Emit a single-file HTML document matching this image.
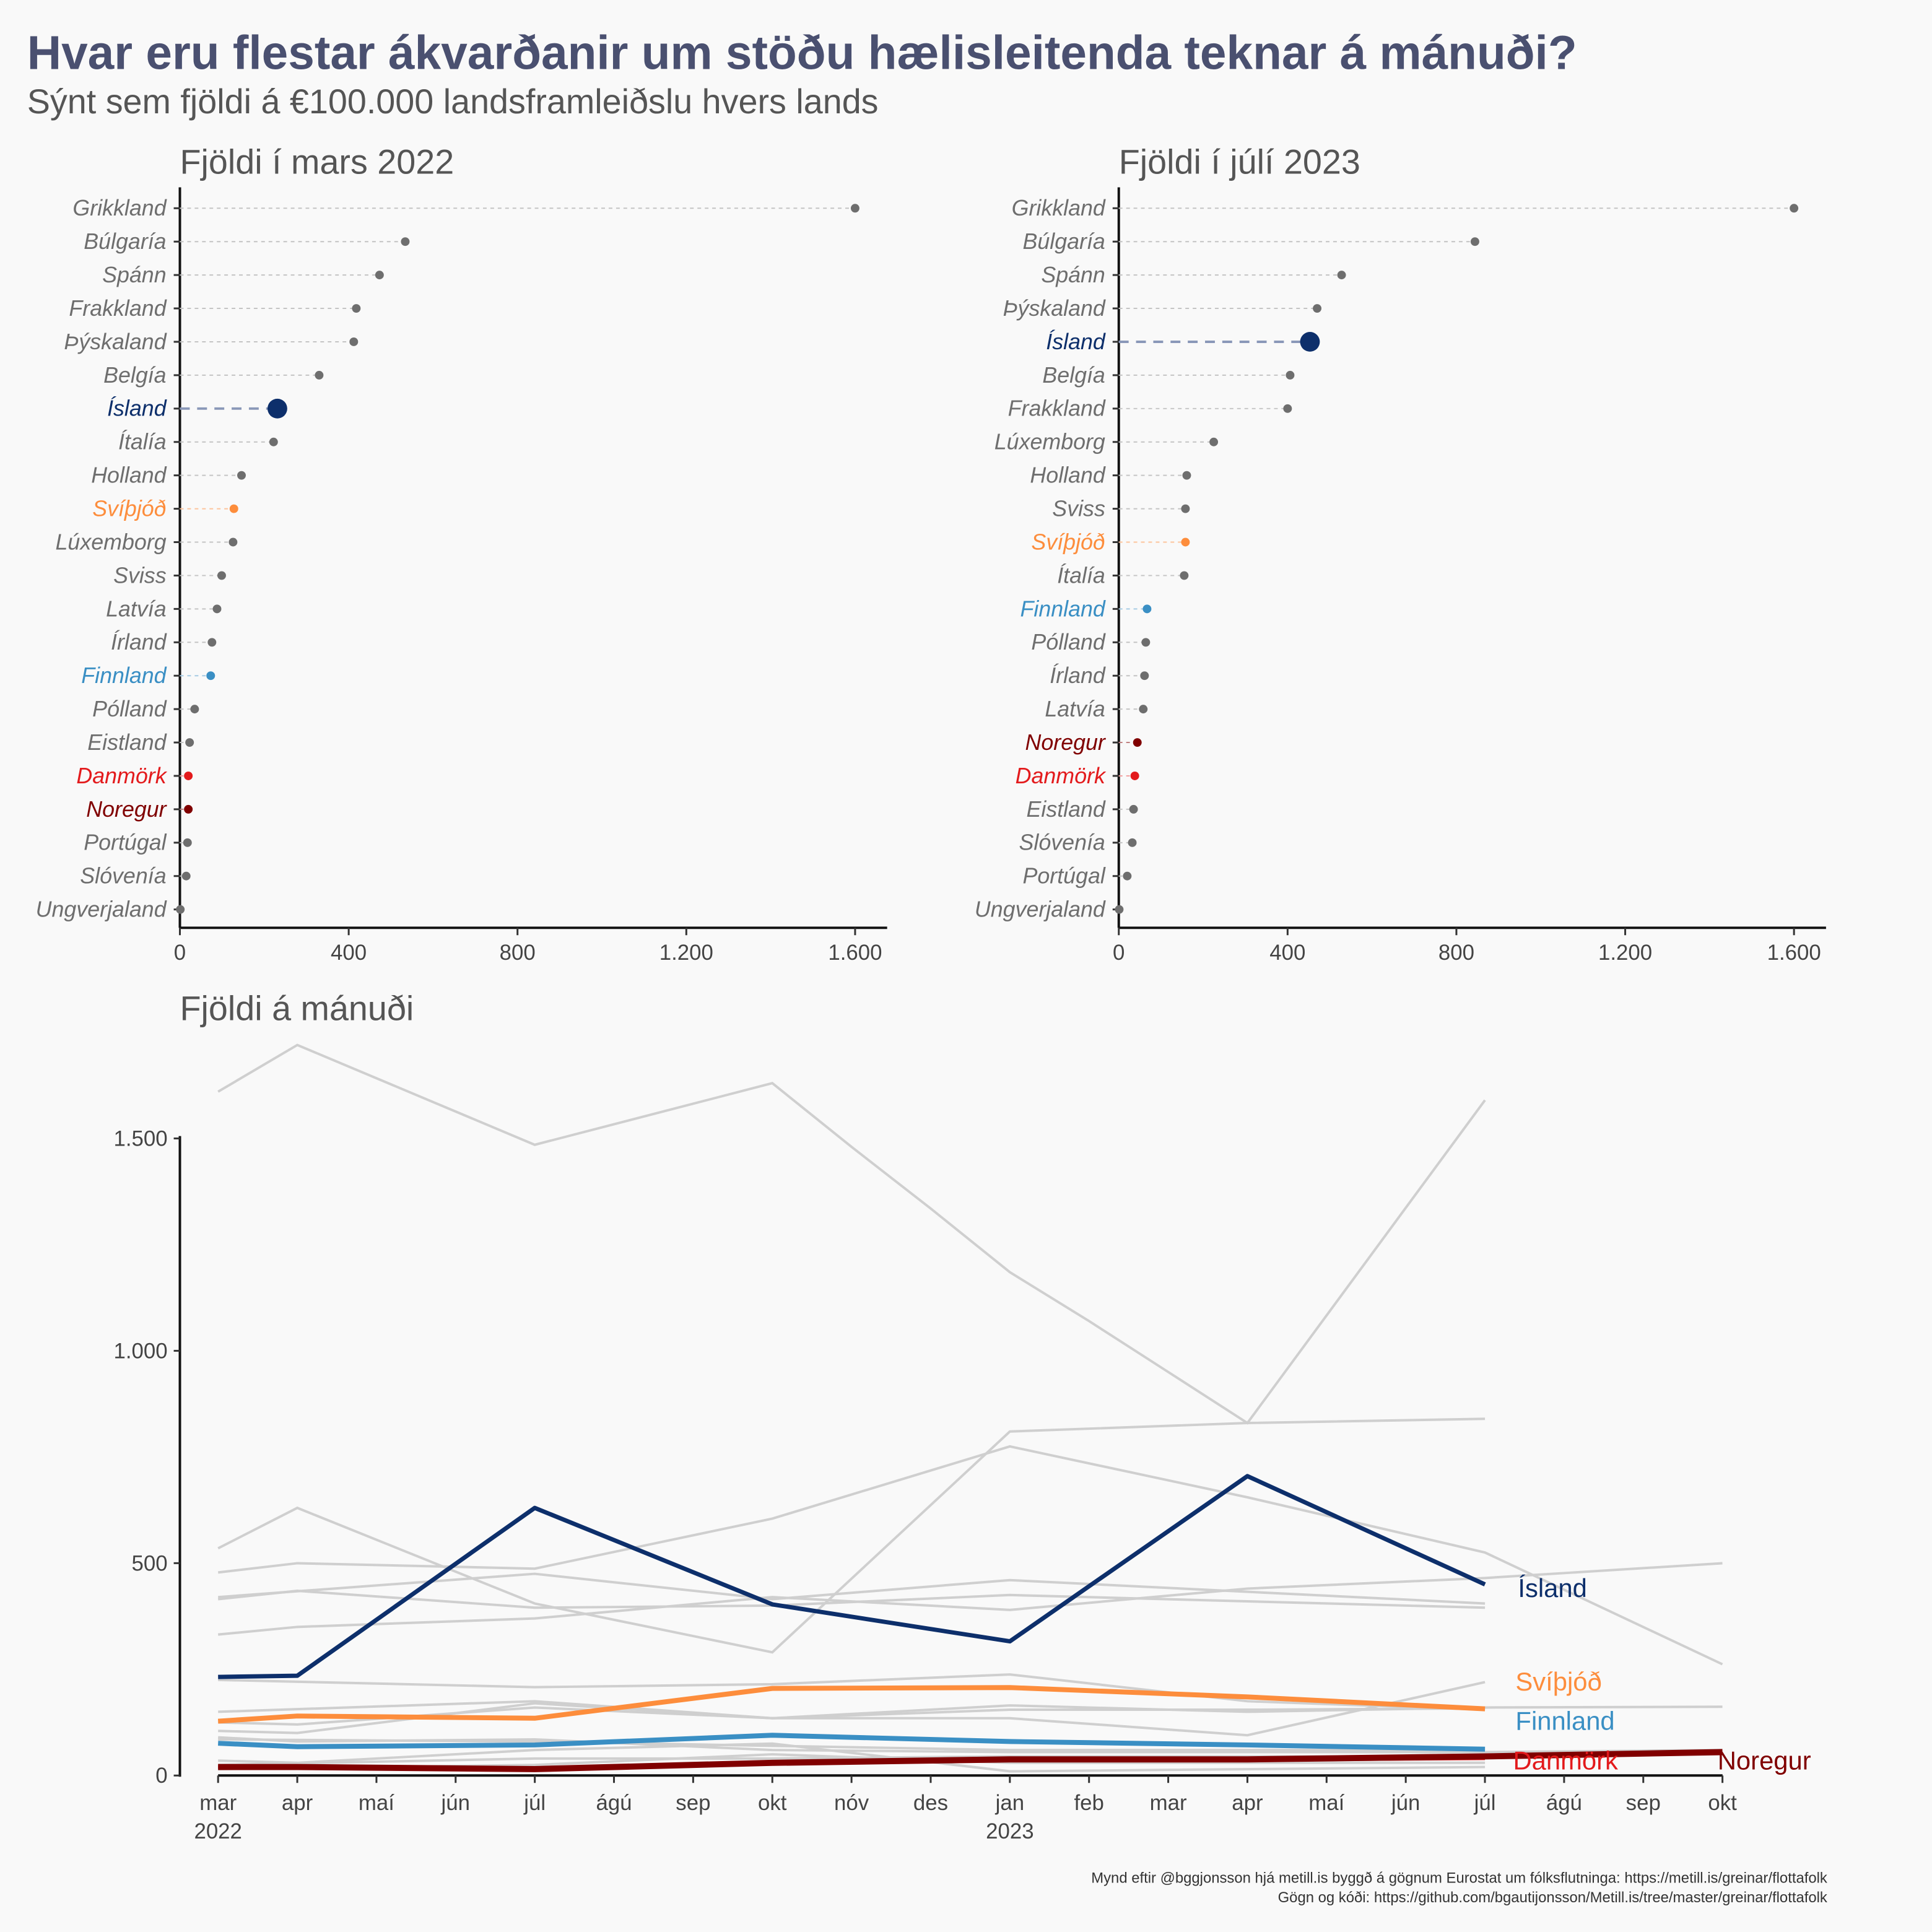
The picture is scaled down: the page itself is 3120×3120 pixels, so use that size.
<!DOCTYPE html>
<html><head><meta charset="utf-8"><style>
html,body{margin:0;padding:0;background:#f9f9f9;}
svg{display:block;font-family:"Liberation Sans",sans-serif;}
</style></head><body>
<svg id="c" width="3120" height="3120" viewBox="0 0 1568 1568" xmlns="http://www.w3.org/2000/svg">
<rect width="1568" height="1568" fill="#f9f9f9"/>
<text x="22" y="56" font-size="38.5" font-weight="bold" fill="#4a5070">Hvar eru flestar ákvarðanir um stöðu hælisleitenda teknar á mánuði?</text>
<text x="22" y="92" font-size="28" fill="#555">Sýnt sem fjöldi á €100.000 landsframleiðslu hvers lands</text>
<text x="146" y="141" font-size="28" fill="#555">Fjöldi í mars 2022</text>
<text x="908" y="141" font-size="28" fill="#555">Fjöldi í júlí 2023</text>
<text x="146" y="828" font-size="28" fill="#555">Fjöldi á mánuði</text>
<text x="1483" y="1528" font-size="12" fill="#333" text-anchor="end">Mynd eftir @bggjonsson hjá metill.is byggð á gögnum Eurostat um fólksflutninga: https://metill.is/greinar/flottafolk</text>
<text x="1483" y="1544" font-size="12" fill="#333" text-anchor="end">Gögn og kóði: https://github.com/bgautijonsson/Metill.is/tree/master/greinar/flottafolk</text>
<g id="g"></g>
</svg>
<script>
const p1Countries=["Grikkland","Búlgaría","Spánn","Frakkland","Þýskaland","Belgía","Ísland","Ítalía","Holland","Svíþjóð","Lúxemborg","Sviss","Latvía","Írland","Finnland","Pólland","Eistland","Danmörk","Noregur","Portúgal","Slóvenía","Ungverjaland"];
const p1Values=[1600,534,473,418,412,330,231,222,146,128,126,99,88,76,73,35,23,20,20,18,15,1];
const p2Countries=["Grikkland","Búlgaría","Spánn","Þýskaland","Ísland","Belgía","Frakkland","Lúxemborg","Holland","Sviss","Svíþjóð","Ítalía","Finnland","Pólland","Írland","Latvía","Noregur","Danmörk","Eistland","Slóvenía","Portúgal","Ungverjaland"];
const p2Values=[1600,844,528,470,453,406,400,225,161,158,158,155,67,64,61,58,44,38,35,32,20,1];
const xTicks=[0,400,800,1200,1600];
const xTickLabels=["0","400","800","1.200","1.600"];
const months=["mar","apr","maí","jún","júl","ágú","sep","okt","nóv","des","jan","feb","mar","apr","maí","jún","júl","ágú","sep","okt"];
const yTicks=[0,500,1000,1500];
const yTickLabels=["0","500","1.000","1.500"];
const grayIdx=[[0,1610],[1,1720],[4,1485],[7,1630],[8,1480],[9,1335],[10,1185],[11,1070],[12,950],[13,830],[16,1590]];
const gray2=[[0,535],[1,630],[4,405],[7,290],[10,810],[13,830],[16,840]];
const gray3=[[0,478],[1,500],[4,487],[7,605],[10,775],[13,655],[16,525],[19,262]];
const gray4=[[0,415],[1,435],[4,395],[7,400],[10,425],[16,395]];
const gray5=[[0,420],[4,475],[7,415],[10,460],[16,405]];
const gray6=[[0,332],[1,350],[4,370],[7,420],[10,390],[13,440],[16,465],[19,500]];
const gray7=[[0,225],[4,208],[7,215],[10,238],[13,175],[16,155]];
const gray8=[[0,150],[4,175],[7,135],[10,165],[13,150],[16,160],[19,162]];
const gray9=[[0,125],[1,120],[4,160],[7,135],[10,155],[13,155],[16,158]];
const gray10=[[0,105],[1,100],[4,170],[7,135],[10,135],[13,95],[16,220]];
const gray11=[[0,90],[1,80],[4,85],[7,60],[10,55],[16,55],[19,60]];
const gray12=[[0,85],[4,80],[7,70],[10,60],[16,60]];
const gray13=[[0,35],[1,30],[4,60],[7,75],[10,10],[16,20]];
const gray14=[[0,25],[4,40],[7,40],[10,45],[16,45]];
const gray15=[[0,15],[4,25],[7,50],[10,30],[16,30]];
const graySeries=[grayIdx,gray2,gray3,gray4,gray5,gray6,gray7,gray8,gray9,gray10,gray11,gray12,gray13,gray14,gray15];
const islandSeries=[[0,232],[1,235],[4,630],[7,403],[10,316],[13,705],[16,450]];
const swedenSeries=[[0,128],[1,140],[4,135],[7,205],[10,207],[13,185],[16,157]];
const finlandSeries=[[0,76],[1,68],[4,72],[7,95],[10,80],[13,72],[16,62]];
const denmarkSeries=[[0,20],[1,20],[4,15],[7,28],[10,36],[13,36],[16,40]];
const norwaySeries=[[0,20],[1,20],[4,15],[7,30],[10,38],[13,38],[16,45],[19,55]];

const NS="http://www.w3.org/2000/svg";
const G=document.getElementById("g");
function el(t,a,parent){const e=document.createElementNS(NS,t);for(const k in a)e.setAttribute(k,a[k]);(parent||G).appendChild(e);return e;}
const colors={"Ísland":"#0d2f6b","Svíþjóð":"#fd8d3c","Finnland":"#3a8fc4","Danmörk":"#e31a1c","Noregur":"#800000"};
const segCol={"Ísland":"#8a98b8","Svíþjóð":"#fdc49c","Finnland":"#a6cbe3","Danmörk":"#f3a0a0","Noregur":"#c08080"};

function lollipop(x0,cats,vals,name){
  const sx=v=>x0+v*0.3425;
  const sy=i=>169+i*27.1;
  let ax=el("line",{x1:x0,y1:152,x2:x0,y2:753,stroke:"#111","stroke-width":2});
  
  
  let bx=el("line",{x1:x0,y1:753,x2:x0+574,y2:753,stroke:"#111","stroke-width":2});
  
  
  xTicks.forEach((t,i)=>{
    el("line",{x1:sx(t),y1:753,x2:sx(t),y2:759,stroke:"#333","stroke-width":1.5});
    const tl=el("text",{x:sx(t),y:779,"font-size":17.5,fill:"#444","text-anchor":"middle"});
    tl.textContent=xTickLabels[i];
    
    
  });
  cats.forEach((c,i)=>{
    const y=sy(i),v=vals[i],col=colors[c]||"#6e6e6e",isl=c==="Ísland";
    el("line",{x1:x0-5,y1:y,x2:x0,y2:y,stroke:"#333","stroke-width":1.5});
    const s=el("line",{x1:x0,y1:y,x2:sx(v),y2:y,stroke:segCol[c]||"#c4c4c4","stroke-width":isl?2:1,"stroke-dasharray":isl?"8,6":"3,3"});
    
    
    const d=el("circle",{cx:sx(v),cy:y,r:isl?8:3.5,fill:col});
    
    
    const t=el("text",{x:x0-11,y:y+6,"font-size":18,"font-style":"italic",fill:colors[c]||"#6e6e6e","text-anchor":"end"});
    t.textContent=c;
    
    
  });
}
lollipop(146,p1Countries,p1Values,"panel1");
lollipop(908,p2Countries,p2Values,"panel2");

const lx=i=>177+i*64.26;
const ly=v=>1441-v*0.3447;
let ya=el("line",{x1:146,y1:922,x2:146,y2:1442,stroke:"#111","stroke-width":2});


let xa=el("line",{x1:177,y1:1441,x2:1398,y2:1441,stroke:"#111","stroke-width":2});


yTicks.forEach((t,i)=>{
  el("line",{x1:141,y1:ly(t),x2:146,y2:ly(t),stroke:"#333","stroke-width":1.5});
  const tl=el("text",{x:136,y:ly(t)+6,"font-size":17.5,fill:"#444","text-anchor":"end"});
  tl.textContent=yTickLabels[i];
  
  
});
months.forEach((m,i)=>{
  el("line",{x1:lx(i),y1:1441,x2:lx(i),y2:1447,stroke:"#333","stroke-width":1.5});
  const tl=el("text",{x:lx(i),y:1469,"font-size":17.5,fill:"#444","text-anchor":"middle"});
  tl.textContent=m;
  
  
});
[[0,"2022"],[10,"2023"]].forEach(([i,y])=>{
  const tl=el("text",{x:lx(i),y:1492,"font-size":17.5,fill:"#444","text-anchor":"middle"});
  tl.textContent=y;
  
  
});
function path(s){return s.map((p,i)=>(i?"L":"M")+lx(p[0]).toFixed(1)+","+ly(p[1]).toFixed(1)).join("");}
graySeries.forEach(s=>{
  const p=el("path",{d:path(s),fill:"none",stroke:"#cfcfcf","stroke-width":2});
  
  
});
[["Danmörk",denmarkSeries,2.5],["Finnland",finlandSeries,4],["Svíþjóð",swedenSeries,4],["Noregur",norwaySeries,5],["Ísland",islandSeries,3.5]].forEach(([n,s,w])=>{
  const p=el("path",{d:path(s),fill:"none",stroke:colors[n],"stroke-width":w,"stroke-linejoin":"round"});
  
  
});
[["Ísland",1232,1296],["Svíþjóð",1230,1372],["Finnland",1230,1404],["Danmörk",1228,1436],["Noregur",1394,1436]].forEach(([n,x,y])=>{
  const t=el("text",{x:x,y:y,"font-size":21,fill:colors[n]});
  t.textContent=n;
  
  
});
</script>
</body></html>
